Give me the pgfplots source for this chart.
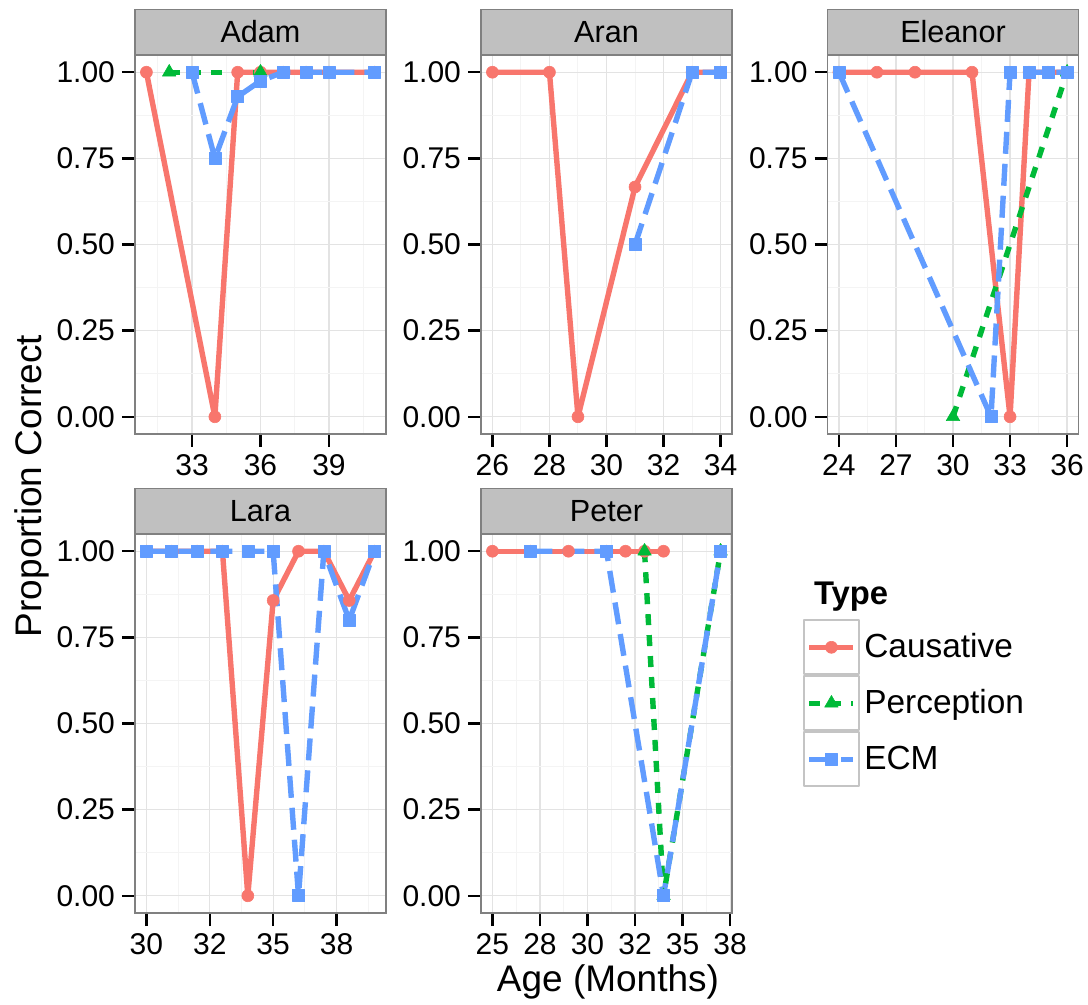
\documentclass[border=0pt]{standalone}
\usepackage{fontspec}
\setmainfont{Liberation Sans}
\usepackage{pgfplots}
\pgfplotsset{compat=1.18}

\definecolor{causc}{HTML}{F8766D}
\definecolor{percc}{HTML}{00BA38}
\definecolor{ecmc}{HTML}{619CFF}
\definecolor{gridmaj}{HTML}{E3E3E3}
\definecolor{gridmin}{HTML}{F4F4F4}
\definecolor{stripbg}{HTML}{C0C0C0}
\definecolor{framec}{HTML}{808080}
\definecolor{legbox}{HTML}{C4C4C4}

\pgfplotsset{
  facet/.style={
    scale only axis, width=125.5pt, height=189.5pt,
    anchor=north west,
    ymin=-0.05, ymax=1.05,
    ytick={0,0.25,0.5,0.75,1},
    yticklabels={0.00,0.25,0.50,0.75,1.00},
    minor ytick={0.125,0.375,0.625,0.875},
    grid=both,
    major grid style={gridmaj, line width=0.6pt},
    minor grid style={gridmin, line width=0.5pt},
    axis line style={framec, line width=0.6pt},
    tick align=outside, tick pos=left,
    major tick length=6.5pt, minor tick length=0pt,
    major tick style={black, line width=1.2pt},
    tick label style={font=\fontsize{15}{18}\selectfont, black},
    every axis title/.style={at={(0.5,1)}, anchor=south, fill=stripbg,
      draw=framec, line width=0.6pt, minimum width=125.5pt,
      minimum height=22.5pt, inner sep=0pt,
      font=\fontsize{15.3}{18}\selectfont, text=black},
  },
  causative/.style={causc, line width=2.7pt, line join=round,
    mark=*, mark size=3pt, mark options={solid, line width=0.3pt}},
  perception/.style={percc, line width=2.7pt, line join=round,
    dash pattern=on 5.5pt off 5pt,
    mark=triangle*, mark size=3.9pt, mark options={solid, line width=0.3pt}},
  ecm/.style={ecmc, line width=2.7pt, line join=round,
    dash pattern=on 11pt off 5pt,
    mark=square*, mark size=3pt, mark options={solid, line width=0.3pt}},
}

\begin{document}
\begin{tikzpicture}
\path[use as bounding box] (0,0) rectangle (544pt,-502.5pt);

% Adam
\begin{axis}[facet, at={(67.5pt,-27.5pt)}, title={Adam},
  xmin=30.5, xmax=41.5, xtick={33,36,39}, xticklabels={33,36,39},
  minor xtick={31.5,34.5,37.5,40.5}]
\addplot[causative] coordinates {(31,1) (34,0) (35,1) (36,1) (37,1) (38,1) (39,1) (41,1)};
\addplot[perception] coordinates {(32,1) (36,1)};
\addplot[ecm] coordinates {(33,1) (34,0.75) (35,0.929) (36,0.975) (37,1) (38,1) (39,1) (41,1)};
\end{axis}

% Aran
\begin{axis}[facet, at={(240.5pt,-27.5pt)}, title={Aran},
  xmin=25.6, xmax=34.4, xtick={26,28,30,32,34}, xticklabels={26,28,30,32,34},
  minor xtick={27,29,31,33}]
\addplot[causative] coordinates {(26,1) (28,1) (29,0) (31,0.667) (33,1) (34,1)};
\addplot[ecm] coordinates {(31,0.5) (33,1) (34,1)};
\end{axis}

% Eleanor
\begin{axis}[facet, at={(413.75pt,-27.5pt)}, title={Eleanor},
  xmin=23.4, xmax=36.6, xtick={24,27,30,33,36}, xticklabels={24,27,30,33,36},
  minor xtick={25.5,28.5,31.5,34.5}]
\addplot[causative] coordinates {(24,1) (26,1) (28,1) (31,1) (33,0) (34,1) (35,1) (36,1)};
\addplot[perception] coordinates {(30,0) (36,1)};
\addplot[ecm] coordinates {(24,1) (32,0) (33,1) (34,1) (35,1) (36,1)};
\end{axis}

% Lara
\begin{axis}[facet, at={(67.5pt,-267pt)}, title={Lara},
  xmin=29.55, xmax=39.45, xtick={30,32.5,35,37.5}, xticklabels={30,32,35,38},
  minor xtick={31.25,33.75,36.25,38.75}]
\addplot[causative] coordinates {(30,1) (31,1) (32,1) (33,1) (34,0) (35,0.857) (36,1) (37,1) (38,0.857) (39,1)};
\addplot[ecm] coordinates {(30,1) (31,1) (32,1) (33,1) (34,1) (35,1) (36,0) (37,1) (38,0.8) (39,1)};
\end{axis}

% Peter (carries the legend)
\begin{axis}[facet, at={(240.5pt,-267pt)}, title={Peter},
  xmin=24.4, xmax=37.6, xtick={25,27.5,30,32.5,35,37.5},
  xticklabels={25,28,30,32,35,38},
  minor xtick={26.25,28.75,31.25,33.75,36.25},
  legend style={at={(1.281,0.776)}, anchor=north west, draw=none, fill=none,
    inner sep=0pt, row sep=0pt, column sep=0pt,
    font=\fontsize{16.7}{20}\selectfont, cells={anchor=west},
    nodes={inner xsep=2.2pt, inner ysep=0pt}},
  legend image code/.code={
    \draw[draw=legbox, line width=1pt, solid, fill=white] (0pt,-13.5pt) rectangle (27.5pt,13.5pt);
    \draw[mark repeat=2, mark phase=2] plot coordinates {(2.75pt,0pt) (13.75pt,0pt) (24.75pt,0pt)};
  }]
\addplot[causative] coordinates {(25,1) (27,1) (29,1) (31,1) (32,1) (33,1) (34,1)};
\addlegendentry{Causative}
\addplot[perception] coordinates {(33,1) (34,0) (37,1)};
\addlegendentry{Perception}
\addplot[ecm] coordinates {(27,1) (31,1) (34,0) (37,1)};
\addlegendentry{ECM}
\end{axis}

\node[anchor=base west, font=\fontsize{16.4}{20}\selectfont\bfseries] at (403.5pt,-302.5pt) {Type};
\node[anchor=base, rotate=90, font=\fontsize{18.5}{22}\selectfont] at (20.8pt,-243pt) {Proportion Correct};
\node[anchor=base, font=\fontsize{18.5}{22}\selectfont] at (304pt,-495.8pt) {Age (Months)};
\end{tikzpicture}
\end{document}
